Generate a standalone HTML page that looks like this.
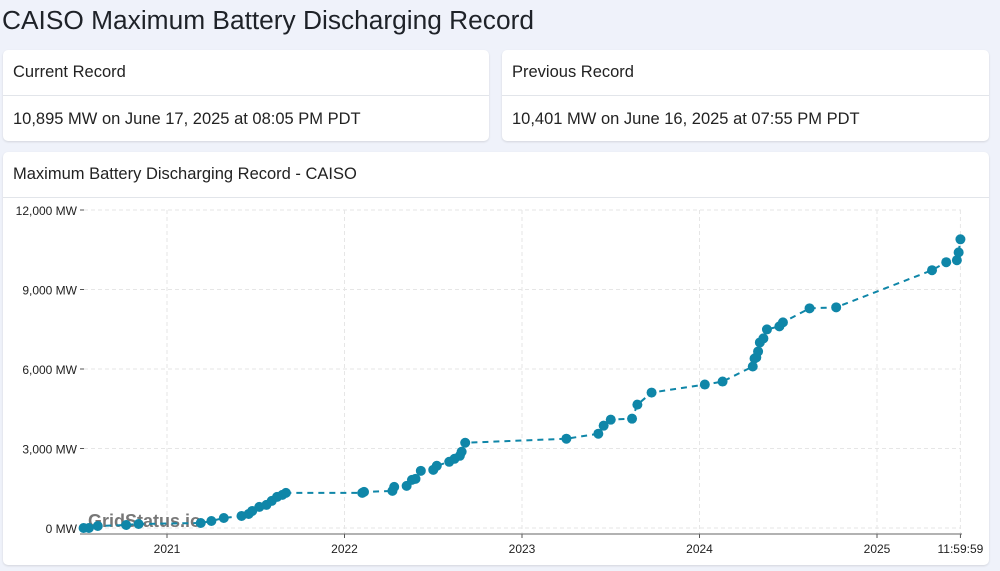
<!DOCTYPE html>
<html><head><meta charset="utf-8"><style>
body{margin:0;width:1000px;height:571px;background:#eff2fa;font-family:"Liberation Sans",sans-serif;color:#222;overflow:hidden;position:relative}
.t{position:absolute;left:2px;top:5px;font-size:26.3px;color:#1e2228}
.card{position:absolute;background:#fff;border-radius:5px;box-shadow:0 1px 2px rgba(0,0,0,.12)}
.hd{position:absolute;left:10px;font-size:16.5px;color:#222}
.ln{position:absolute;left:0;right:0;height:1px;background:#e2e5ea}
</style></head><body>
<div class="t">CAISO Maximum Battery Discharging Record</div>
<div class="card" style="left:3px;top:50px;width:486px;height:91px">
 <div class="hd" style="top:13px">Current Record</div>
 <div class="ln" style="top:45px"></div>
 <div class="hd" style="top:60px">10,895 MW on June 17, 2025 at 08:05 PM PDT</div>
</div>
<div class="card" style="left:502px;top:50px;width:487px;height:91px">
 <div class="hd" style="top:13px">Previous Record</div>
 <div class="ln" style="top:45px"></div>
 <div class="hd" style="top:60px">10,401 MW on June 16, 2025 at 07:55 PM PDT</div>
</div>
<div class="card" style="left:3px;top:152px;width:986px;height:413px">
 <div class="hd" style="top:13px">Maximum Battery Discharging Record - CAISO</div>
 <div class="ln" style="top:45px"></div>
</div>
<svg id="ch" width="1000" height="571" style="position:absolute;left:0;top:0"></svg>
<script>
const years=[2020.53,2020.56,2020.61,2020.77,2020.84,2021.19,2021.25,2021.32,2021.42,2021.46,2021.48,2021.52,2021.56,2021.59,2021.62,2021.65,2021.67,2022.10,2022.11,2022.27,2022.28,2022.35,2022.38,2022.40,2022.43,2022.50,2022.52,2022.59,2022.62,2022.65,2022.66,2022.68,2023.25,2023.43,2023.46,2023.50,2023.62,2023.65,2023.73,2024.03,2024.13,2024.30,2024.31,2024.32,2024.33,2024.34,2024.36,2024.38,2024.45,2024.47,2024.62,2024.77,2025.31,2025.39,2025.45,2025.46,2025.47];
const mw=[0,0,76,114,151,189,265,378,454,530,643,795,871,1022,1173,1249,1325,1325,1363,1400,1552,1590,1817,1855,2157,2195,2347,2498,2612,2725,2877,3217,3369,3558,3861,4088,4126,4656,5110,5413,5526,6094,6397,6435,6662,7002,7154,7494,7608,7759,8289,8327,9728,10030,10106,10401,10895];
const yTicks=[0,3000,6000,9000,12000];
const yLabels=["0 MW","3,000 MW","6,000 MW","9,000 MW","12,000 MW"];
const xTicks=[2021,2022,2023,2024,2025,2025.47];
const xLabels=["2021","2022","2023","2024","2025","11:59:59"];
const X=v=>167+(v-2021)*177.5, Y=v=>528-v*0.0265;
const svg=document.getElementById('ch'),NS='http://www.w3.org/2000/svg';
function mk(t,a,txt){const e=document.createElementNS(NS,t);for(const k in a)e.setAttribute(k,a[k]);if(txt!=null)e.textContent=txt;svg.appendChild(e);return e;}
yTicks.forEach((v,i)=>{
 const g=mk('line',{x1:84,x2:961,y1:Y(v),y2:Y(v),stroke:'#e6e6e6','stroke-dasharray':'4,3'});
 
 
 mk('line',{x1:80,x2:84,y1:Y(v),y2:Y(v),stroke:'#555'});
 const t=mk('text',{x:77,y:Y(v)+5,'text-anchor':'end','font-size':12,fill:'#222'},yLabels[i]);
 
 
});
xTicks.forEach((v,i)=>{
 const g=mk('line',{x1:X(v),x2:X(v),y1:210,y2:534,stroke:'#e6e6e6','stroke-dasharray':'4,3'});
 
 
 mk('line',{x1:X(v),x2:X(v),y1:534,y2:538,stroke:'#555'});
 const t=mk('text',{x:X(v),y:553,'text-anchor':'middle','font-size':12,fill:'#222'},xLabels[i]);
 
 
});
const ax=mk('line',{x1:80,x2:962,y1:534,y2:534,stroke:'#666'});


const wm=mk('text',{x:88,y:527,'font-size':18,'font-weight':'bold',fill:'#555','fill-opacity':0.8},'GridStatus.io');


const p=mk('polyline',{points:years.map((v,i)=>X(v)+','+Y(mw[i])).join(' '),fill:'none',stroke:'#0f86a8','stroke-width':2,'stroke-dasharray':'6,5'});


years.forEach((v,i)=>{
 const c=mk('circle',{cx:X(v),cy:Y(mw[i]),r:5,fill:'#0f86a8'});
 
 
});
</script>
</body></html>
